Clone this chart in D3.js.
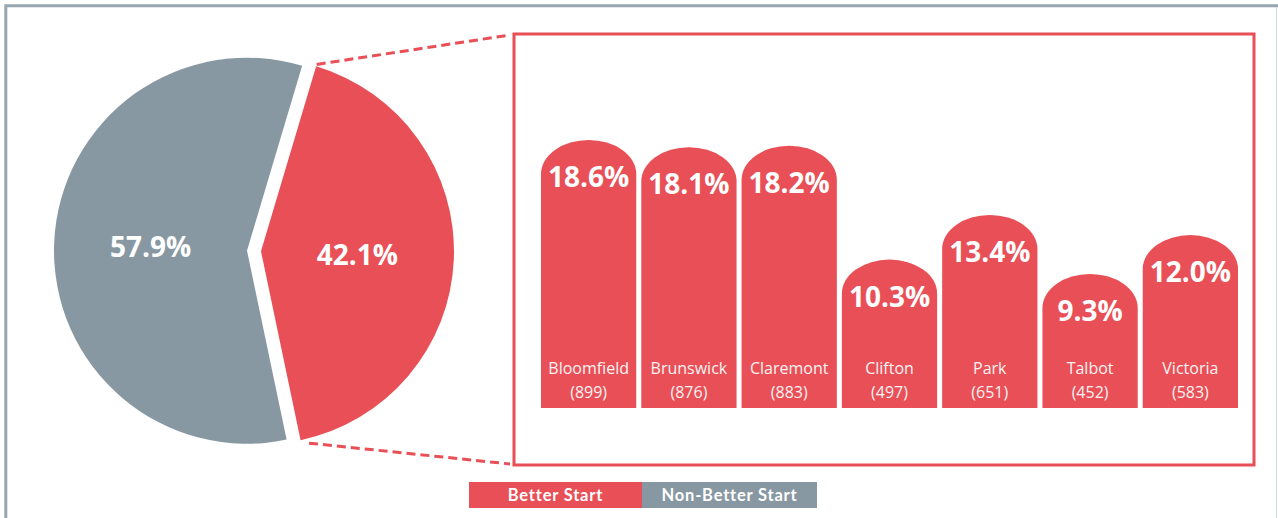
<!DOCTYPE html>
<html>
<head>
<meta charset="utf-8">
<script src="https://cdn.jsdelivr.net/npm/d3@7"></script>
<style>
  body { margin: 0; background: #ffffff; }
  svg { display: block; }
</style>
</head>
<body>
<div id="chart"></div>
<script>
// pie data
var pieLabels = ["Better Start", "Non-Better Start"];
var pieValues = [42.1, 57.9];

// breakdown by area
var areas = ["Bloomfield", "Brunswick", "Claremont", "Clifton", "Park", "Talbot", "Victoria"];
var areaPct = [18.6, 18.1, 18.2, 10.3, 13.4, 9.3, 12.0];
var areaCounts = [899, 876, 883, 497, 651, 452, 583];

var width = 1278;
var height = 518;
var red = "#e84f56";
var grey = "#8898a3";
var font = "'Open Sans', sans-serif";

var svg = d3.select("#chart")
    .append("svg")
    .attr("width", width)
    .attr("height", height);

// outer frame
svg.append("path")
    .attr("d", "M5.8," + height + " L5.8,5.8 L" + width + ",5.8")
    .attr("fill", "none")
    .attr("stroke", "#98a6b0")
    .attr("stroke-width", 3);
svg.append("line")
    .attr("x1", 1276.5).attr("x2", 1276.5)
    .attr("y1", 7).attr("y2", height)
    .attr("stroke", "#d3d8dc")
    .attr("stroke-width", 1);

// ---- pie ----
var cx = 254, cy = 251, radius = 193, explode = 7;

var pie = d3.pie()
    .sort(null)
    .startAngle(16.6 * Math.PI / 180)
    .endAngle(16.6 * Math.PI / 180 + 2 * Math.PI);

var arc = d3.arc()
    .innerRadius(0)
    .outerRadius(radius);

var slices = pie(pieValues);

function offset(d)
{
    var mid = (d.startAngle + d.endAngle) / 2;
    return [Math.sin(mid) * explode, -Math.cos(mid) * explode];
}

var pieG = svg.append("g")
    .attr("transform", "translate(" + cx + "," + cy + ")");

var sliceG = pieG.selectAll(".slice")
    .data(slices)
    .enter()
    .append("g")
    .attr("class", "slice")
    .attr("transform", function(d) { var o = offset(d); return "translate(" + o[0] + "," + o[1] + ")"; });

sliceG.append("path")
    .attr("d", arc)
    .attr("fill", function(d, i) { return i == 0 ? red : grey; });

sliceG.append("text")
    .attr("transform", function(d) { return "translate(" + arc.centroid(d) + ")"; })
    .attr("dy", "0.36em")
    .attr("text-anchor", "middle")
    .attr("fill", "#ffffff")
    .style("font-family", font)
    .style("font-weight", 700)
    .style("font-size", "28px")
    .text(function(d) { return d.data.toFixed(1) + "%"; });

// ---- zoom box ----
var box = {x: 514, y: 34, w: 740, h: 431};

svg.append("rect")
    .attr("x", box.x)
    .attr("y", box.y)
    .attr("width", box.w)
    .attr("height", box.h)
    .attr("fill", "none")
    .attr("stroke", red)
    .attr("stroke-width", 3);

// dashed connectors from the red slice edge to the box corners
var rs = slices[0];
var ro = offset(rs);
var pStart = [cx + ro[0] + Math.sin(rs.startAngle) * (radius + 2), cy + ro[1] - Math.cos(rs.startAngle) * (radius + 2)];
var pEnd = [cx + ro[0] + Math.sin(rs.endAngle) * (radius + 2) + 8, cy + ro[1] - Math.cos(rs.endAngle) * (radius + 2) + 1];

svg.append("line")
    .attr("x1", pStart[0]).attr("y1", pStart[1])
    .attr("x2", box.x - 4).attr("y2", box.y + 1)
    .attr("stroke", red)
    .attr("stroke-width", 3)
    .attr("stroke-dasharray", "9,5");

svg.append("line")
    .attr("x1", pEnd[0]).attr("y1", pEnd[1])
    .attr("x2", box.x - 4).attr("y2", box.y + box.h - 1)
    .attr("stroke", red)
    .attr("stroke-width", 3)
    .attr("stroke-dasharray", "9,5");

// ---- bars ----
var barBottom = 408;

var xScale = d3.scaleBand()
    .domain(areas)
    .range([541, 1238])
    .paddingInner(0.05)
    .paddingOuter(0);

var yScale = d3.scaleLinear()
    .domain([0, d3.max(areaPct)])
    .range([barBottom, 140]);

var capH = 34;

function barPath(d, i)
{
    var x0 = xScale(areas[i]);
    var x1 = x0 + xScale.bandwidth();
    var top = yScale(d);
    var rx = xScale.bandwidth() / 2;
    return "M" + x0 + "," + barBottom +
        " L" + x0 + "," + (top + capH) +
        " A" + rx + "," + capH + " 0 0 1 " + x1 + "," + (top + capH) +
        " L" + x1 + "," + barBottom + " Z";
}

var bars = svg.selectAll(".bar")
    .data(areaPct)
    .enter()
    .append("g")
    .attr("class", "bar");

bars.append("path")
    .attr("d", barPath)
    .attr("fill", red);

bars.append("text")
    .attr("x", function(d, i) { return xScale(areas[i]) + xScale.bandwidth() / 2; })
    .attr("y", function(d) { return yScale(d) + 47; })
    .attr("text-anchor", "middle")
    .attr("fill", "#ffffff")
    .style("font-family", font)
    .style("font-weight", 700)
    .style("font-size", "28px")
    .text(function(d) { return d.toFixed(1) + "%"; });

bars.append("text")
    .attr("x", function(d, i) { return xScale(areas[i]) + xScale.bandwidth() / 2; })
    .attr("y", barBottom - 34)
    .attr("text-anchor", "middle")
    .attr("fill", "#fbf3f3")
    .style("font-family", font)
    .style("font-size", "16px")
    .text(function(d, i) { return areas[i]; });

bars.append("text")
    .attr("x", function(d, i) { return xScale(areas[i]) + xScale.bandwidth() / 2; })
    .attr("y", barBottom - 10)
    .attr("text-anchor", "middle")
    .attr("fill", "#fbf3f3")
    .style("font-family", font)
    .style("font-size", "16px")
    .text(function(d, i) { return "(" + areaCounts[i] + ")"; });

// ---- legend ----
var legendX = d3.scaleOrdinal()
    .domain(pieLabels)
    .range([469, 642]);
var legendW = [173, 175];

var legend = svg.selectAll(".legend")
    .data(pieLabels)
    .enter()
    .append("g")
    .attr("class", "legend");

legend.append("rect")
    .attr("x", function(d) { return legendX(d); })
    .attr("y", 482)
    .attr("width", function(d, i) { return legendW[i]; })
    .attr("height", 26)
    .attr("fill", function(d, i) { return i == 0 ? red : grey; });

legend.append("text")
    .attr("x", function(d, i) { return legendX(d) + legendW[i] / 2; })
    .attr("y", 501)
    .attr("text-anchor", "middle")
    .attr("fill", "#ffffff")
    .style("font-family", "Lato, sans-serif")
    .style("font-weight", 700)
    .style("font-size", "16.5px")
    .style("letter-spacing", "0.8px")
    .text(function(d) { return d; });
</script>
</body>
</html>
